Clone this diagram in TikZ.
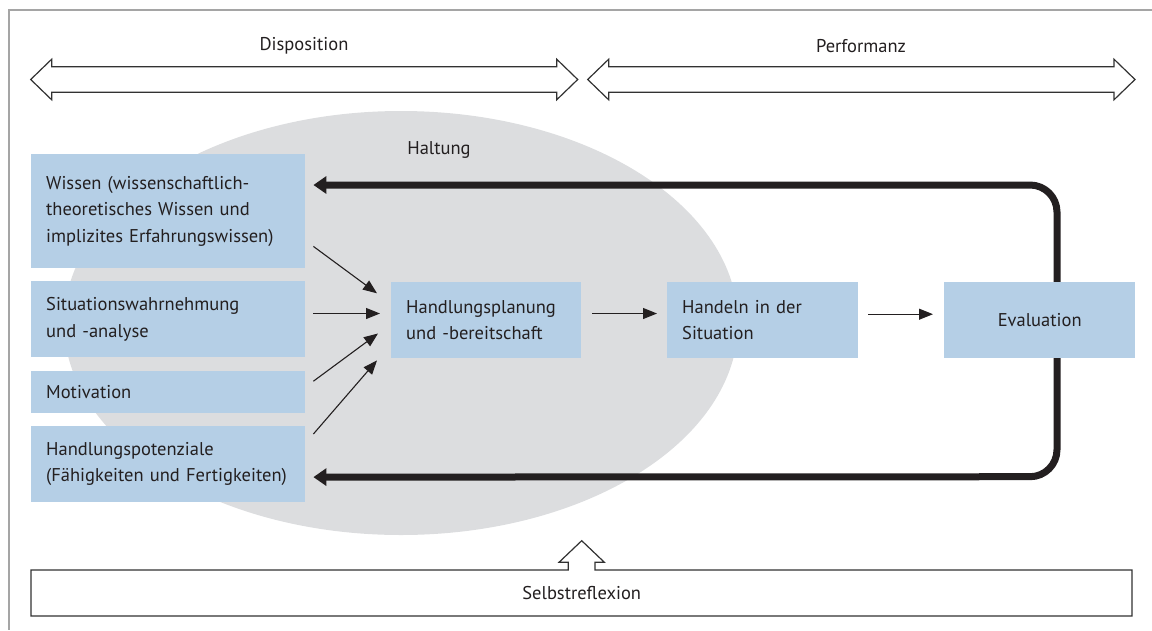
\documentclass[tikz,border=0pt]{standalone}
\usepackage{fontspec}
\setmainfont{PT Sans}
\usetikzlibrary{arrows.meta}
\definecolor{boxblue}{RGB}{181,207,230}
\definecolor{halo}{RGB}{220,221,223}
\definecolor{ink}{RGB}{35,31,32}
\definecolor{outline}{RGB}{50,50,50}
\definecolor{framegray}{RGB}{165,165,165}

\begin{document}
\begin{tikzpicture}[x=1pt,y=-1pt,
  every node/.style={font=\fontsize{18.5}{26.5}\selectfont, text=ink},
  pbox/.style={fill=boxblue, anchor=north west, inner xsep=15pt, inner ysep=0pt, align=left},
  thinarrow/.style={draw=ink, line width=1.1pt, -{Triangle[length=14pt,width=11pt]}},
  feedback/.style={draw=ink, line width=7pt, rounded corners=27pt,
    {Triangle[length=13pt,width=17pt]}-{Triangle[length=13pt,width=17pt]}},
  bigarrow/.style={draw=outline, line width=1.2pt, fill=white, line join=miter}
]
\useasboundingbox (0,0) rectangle (1152,630);

% frame lines (top and left)
\draw[framegray, line width=1.5pt] (1152,10) -- (9,10) -- (9,630);

% labels above the double arrows
\node (disp) at (304,46) {Disposition};
\node (perf) at (861,46) {Performanz};

% double arrows
\draw[bigarrow] (30.7,79.5) -- (51.7,59.2) -- (51.7,66.7) -- (556.7,66.7) -- (556.7,59.2)
  -- (577.7,79.5) -- (556.7,99.8) -- (556.7,92.3) -- (51.7,92.3) -- (51.7,99.8) -- cycle;
\draw[bigarrow] (587.7,79.5) -- (608.7,59.2) -- (608.7,66.7) -- (1114,66.7) -- (1114,59.2)
  -- (1135,79.5) -- (1114,99.8) -- (1114,92.3) -- (608.7,92.3) -- (608.7,99.8) -- cycle;

% attitude background
\fill[halo] (401,323) ellipse [x radius=337pt, y radius=212pt];
\node (haltung) at (439,150) {Haltung};

% components of the disposition
\node[pbox, text width=244pt, minimum height=114pt] (wissen) at (31,154)
  {\mbox{Wissen (wissenschaftlich-}\\\mbox{theoretisches Wissen und}\\\mbox{implizites Erfahrungswissen)}};
\node[pbox, text width=244pt, minimum height=76pt] (sit) at (31,281)
  {Situationswahrnehmung\\und -analyse};
\node[pbox, text width=244pt, minimum height=42pt] (mot) at (31,371) {Motivation};
\node[pbox, text width=244pt, minimum height=76pt] (hpot) at (31,426)
  {Handlungspotenziale\\\mbox{(Fähigkeiten und Fertigkeiten)}};

\node[pbox, text width=160pt, minimum height=76pt] (plan) at (391,282)
  {Handlungsplanung\\und -bereitschaft};
\node[pbox, text width=161pt, minimum height=76pt] (handeln) at (667,282)
  {Handeln in der\\Situation};

% feedback loop from evaluation back to knowledge and potentials
\coordinate (loopNE) at (1057,185);
\coordinate (loopSE) at (1057,476.7);
\draw[feedback] ([shift={(8,31)}]wissen.north east) -- (loopNE) -- (loopSE)
  -- ([shift={(8,-25.3)}]hpot.south east);

\node[pbox, text width=161pt, minimum height=76pt, align=center] (eval) at (944,282) {Evaluation};

% inputs into planning
\draw[thinarrow] ([shift={(8,-22)}]wissen.south east) -- ([shift={(-14,11.3)}]plan.north west);
\draw[thinarrow] ([shift={(8,-5.7)}]sit.east) -- ([shift={(-11,-6.7)}]plan.west);
\draw[thinarrow] ([shift={(8,-11)}]mot.east) -- ([shift={(-13,13.3)}]plan.west);
\draw[thinarrow] ([shift={(8,8)}]hpot.north east) -- ([shift={(-14,2)}]plan.south west);

% sequence of action
\draw[thinarrow] ([shift={(11,-6.7)}]plan.east) -- ([shift={(-10,-6.7)}]handeln.west);
\draw[thinarrow] ([shift={(10,-6)}]handeln.east) -- ([shift={(-11,-6)}]eval.west);

% self-reflection bar with upward arrow
\draw[bigarrow] (31,570) -- (568.3,570) -- (568.3,562.3) -- (559,562.3) -- (581.7,540.7)
  -- (604.4,562.3) -- (595,562.3) -- (595,570) -- (1132,570) -- (1132,616) -- (31,616) -- cycle;
\node (selbst) at (581.7,593) {Selbstreflexion};
\end{tikzpicture}
\end{document}
